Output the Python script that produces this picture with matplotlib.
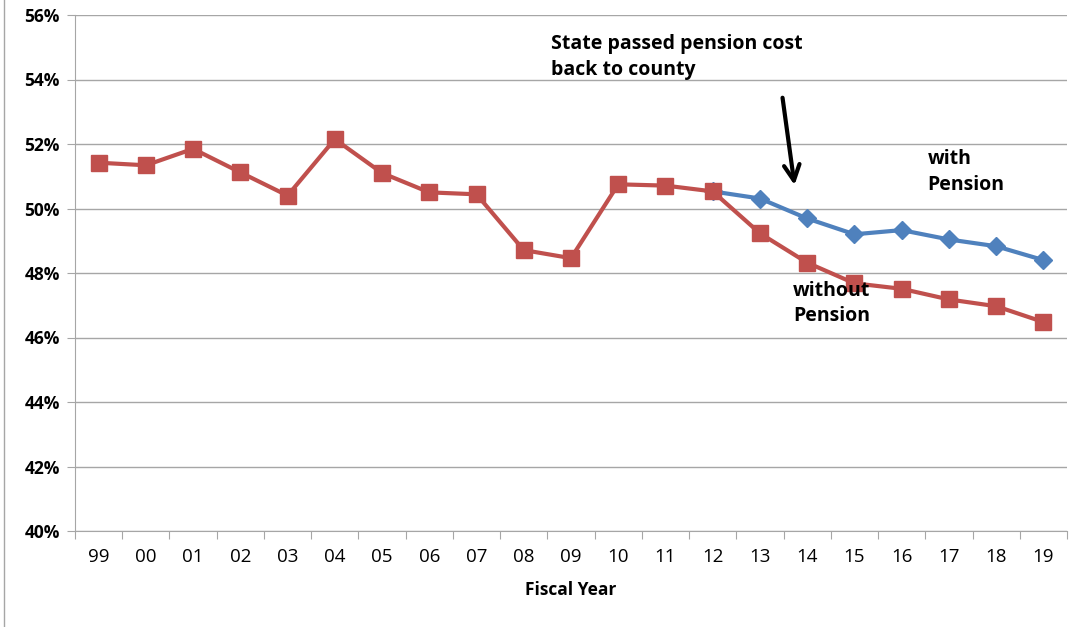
import numpy as np
import matplotlib
matplotlib.use("Agg")
import matplotlib.pyplot as plt
from matplotlib.ticker import FuncFormatter, FixedLocator

plt.rcParams['font.family'] = ['Open Sans', 'DejaVu Sans']

years = ['99', '00', '01', '02', '03', '04', '05', '06', '07', '08', '09',
         '10', '11', '12', '13', '14', '15', '16', '17', '18', '19']
without_pension = [51.42, 51.34, 51.85, 51.12, 50.40, 52.15, 51.10, 50.50, 50.44, 48.71, 48.46,
                   50.75, 50.71, 50.53, 49.23, 48.32, 47.68, 47.51, 47.18, 46.97, 46.48]
# before FY12 the two series are identical and the blue one is hidden under the red
with_pension = [None] * 13 + [50.53, 50.31, 49.69, 49.20, 49.33, 49.04, 48.83, 48.40]
yticks = [40, 42, 44, 46, 48, 50, 52, 54, 56]

red = '#C0504D'
blue = '#4F81BD'
grid_c = '#a6a6a6'

x = np.arange(len(years))
with_arr = np.array([np.nan if v is None else v for v in with_pension])

fig = plt.figure(figsize=(10.77, 6.27), dpi=100)
ax = fig.add_axes([75/1077, 1-531/627, (1067-75)/1077, (531-15)/627])

ax.plot(x, with_arr, color=blue, lw=3, marker='D', ms=9, zorder=3)
ax.plot(x, without_pension, color=red, lw=3, marker='s', ms=11.5, zorder=4)

ax.set_xlim(-0.5, len(years) - 0.5)
ax.set_ylim(40, 56)
ax.set_yticks(yticks, ['%d%%' % v for v in yticks], fontweight='bold', fontsize=12.5)
ax.grid(axis='y', color=grid_c, lw=1)
ax.set_axisbelow(True)

# category boundaries carry the tick marks, labels sit in the middle
ax.xaxis.set_major_locator(FixedLocator(np.arange(-0.5, len(years), 1)))
ax.xaxis.set_major_formatter(FuncFormatter(lambda v, p: ''))
ax.xaxis.set_minor_locator(FixedLocator(x))
ax.set_xticklabels(years, minor=True)
ax.tick_params(axis='x', which='major', length=6, color=grid_c, direction='out')
ax.tick_params(axis='x', which='minor', length=0, labelsize=13.5, pad=12)
ax.tick_params(axis='y', length=6, color=grid_c, pad=5)

for s in ['top', 'right']:
    ax.spines[s].set_visible(False)
for s in ['left', 'bottom']:
    ax.spines[s].set_color(grid_c)

ax.set_xlabel('Fiscal Year', fontsize=12.5, fontweight='bold', labelpad=11)

ax.text(9.58, 55.42, 'State passed pension cost\nback to county', fontsize=14,
        fontweight='bold', va='top', ha='left', linespacing=1.4)
ax.annotate('', xy=(14.74, 50.64), xytext=(14.47, 53.52),
            arrowprops=dict(arrowstyle='->', lw=3, color='black',
                            mutation_scale=28))
ax.text(17.55, 51.83, 'with\nPension', fontsize=14, fontweight='bold',
        va='top', ha='left', linespacing=1.35)
ax.text(14.7, 47.75, 'without\nPension', fontsize=14, fontweight='bold',
        va='top', ha='left', linespacing=1.35, zorder=5)

fig.add_artist(plt.Line2D([4/1077, 4/1077], [0, 1], color=grid_c, lw=1))

fig.savefig('out.png', dpi=100)
